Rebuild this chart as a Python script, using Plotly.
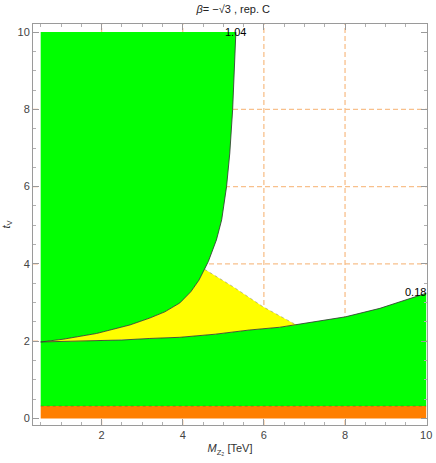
import plotly.graph_objects as go

# boundary of the upper-left allowed region (green), from the bottom-left corner up to t_V = 10
upper_m = [0.50, 1.05, 1.88, 2.70, 3.19, 3.56, 3.93, 4.20, 4.40, 4.54, 4.63, 4.83, 4.96, 5.08, 5.16, 5.23, 5.27, 5.31]
upper_t = [1.98, 2.05, 2.20, 2.42, 2.60, 2.76, 2.99, 3.28, 3.58, 3.86, 4.06, 4.62, 5.14, 6.00, 6.87, 7.99, 9.02, 10.0]

# boundary of the lower allowed region (green)
lower_m = [0.50, 1.50, 2.50, 3.19, 3.93, 4.80, 5.65, 6.39, 6.88, 8.01, 8.86, 9.35, 10.0]
lower_t = [1.98, 2.00, 2.03, 2.07, 2.10, 2.18, 2.29, 2.36, 2.44, 2.63, 2.85, 3.02, 3.24]

# right-hand edge of the yellow wedge
yellow_m = [4.54, 5.24, 5.98, 6.80]
yellow_t = [3.86, 3.41, 2.89, 2.42]

# orange strip at the bottom
band_t = [0.0, 0.32]
m_lim = [0.5, 10.0]
t_top = 10.0

grid_m = [2, 4, 6, 8]
grid_t = [2, 4, 6, 8]

curve_labels = ["1.04", "0.18"]

GREEN = "#00ff00"
YELLOW = "#ffff00"
ORANGE = "#ff7f00"
FONT = "Liberation Sans"

fig = go.Figure()

# orange strip
fig.add_trace(go.Scatter(
    x=[m_lim[0], m_lim[1], m_lim[1], m_lim[0]],
    y=[band_t[0], band_t[0], band_t[1], band_t[1]],
    fill="toself", fillcolor=ORANGE, mode="lines", line=dict(width=0),
    hoverinfo="skip", showlegend=False))

# lower green region
fig.add_trace(go.Scatter(
    x=lower_m + [m_lim[1], m_lim[0]],
    y=lower_t + [band_t[1], band_t[1]],
    fill="toself", fillcolor=GREEN, mode="lines", line=dict(width=0),
    hoverinfo="skip", showlegend=False))

# upper-left green region
fig.add_trace(go.Scatter(
    x=[m_lim[0]] + upper_m + [m_lim[0]],
    y=[t_top] + upper_t + [t_top],
    fill="toself", fillcolor=GREEN, mode="lines", line=dict(width=0),
    hoverinfo="skip", showlegend=False))

# yellow wedge between the two green regions
wx = [m for m in upper_m if m <= yellow_m[0]]
wy = upper_t[:len(wx)]
lx = [m for m in lower_m if m < yellow_m[-1]]
ly = lower_t[:len(lx)]
fig.add_trace(go.Scatter(
    x=wx + yellow_m[1:] + lx[::-1],
    y=wy + yellow_t[1:] + ly[::-1],
    fill="toself", fillcolor=YELLOW, mode="lines", line=dict(width=0),
    hoverinfo="skip", showlegend=False))

# boundary lines
edge = dict(color="rgba(50,60,50,0.85)", width=1)
fig.add_trace(go.Scatter(x=upper_m, y=upper_t, mode="lines", line=edge,
                         hoverinfo="skip", showlegend=False))
fig.add_trace(go.Scatter(x=lower_m, y=lower_t, mode="lines", line=edge,
                         hoverinfo="skip", showlegend=False))
fig.add_trace(go.Scatter(x=yellow_m, y=yellow_t, mode="lines",
                         line=dict(color="rgba(120,120,120,0.7)", width=0.7, dash="dot"),
                         hoverinfo="skip", showlegend=False))
fig.add_trace(go.Scatter(x=m_lim, y=[band_t[1], band_t[1]], mode="lines",
                         line=dict(color="rgba(90,90,40,0.6)", width=0.8, dash="dot"),
                         hoverinfo="skip", showlegend=False))

# dashed grid lines drawn behind the regions
grid_style = dict(color="#f8c08c", width=1.3, dash="5px,3px")
shapes = []
for v in grid_m:
    shapes.append(dict(type="line", xref="x", yref="paper", x0=v, x1=v, y0=0, y1=1,
                       line=grid_style, layer="below"))
for v in grid_t:
    shapes.append(dict(type="line", xref="paper", yref="y", x0=0, x1=1, y0=v, y1=v,
                       line=grid_style, layer="below"))

annotations = [
    dict(x=upper_m[-1], y=upper_t[-1], text=curve_labels[0], showarrow=False,
         xanchor="center", yanchor="middle", font=dict(family=FONT, size=11, color="black")),
    dict(x=lower_m[-1], y=lower_t[-1], text=curve_labels[1], showarrow=False,
         xanchor="right", yanchor="middle", xshift=2, yshift=1,
         font=dict(family=FONT, size=11, color="black")),
]

axis_common = dict(
    showline=True, linecolor="#9a9a9a", linewidth=1, mirror="ticks",
    ticks="inside", ticklen=6, tickcolor="#9a9a9a", tickwidth=1,
    showgrid=False, zeroline=False, automargin=False,
    tickfont=dict(family=FONT, size=11, color="#444444"),
    minor=dict(dtick=0.5, ticks="inside", ticklen=3, tickcolor="#b0b0b0", showgrid=False),
    tick0=0, dtick=2,
)

fig.update_layout(
    width=436, height=463,
    margin=dict(l=33, r=9, t=24, b=38, autoexpand=False),
    plot_bgcolor="white", paper_bgcolor="white",
    font=dict(family=FONT, size=11, color="#333333"),
    title=dict(text="<i>β</i>= −√3 , rep. C", x=0.535, xanchor="center",
               y=1 - 9 / 463, yanchor="middle",
               font=dict(family=FONT, size=11, color="#222222")),
    xaxis=dict(range=[0.31, 10.02],
               title=dict(text="<i>M</i><sub>Z₂</sub> [TeV]", standoff=4,
                          font=dict(family=FONT, size=11, color="#333333")),
               **axis_common),
    yaxis=dict(range=[-0.17, 10.21],
               title=dict(text="<i>t</i><sub>V</sub>", standoff=6,
                          font=dict(family=FONT, size=11, color="#333333")),
               **axis_common),
    shapes=shapes,
    annotations=annotations,
)

# drop the browser's default page margin so the figure sits at the window corner
fig.write_html("out.html", config={"displayModeBar": False},
               post_script="document.body.style.margin='0';")
